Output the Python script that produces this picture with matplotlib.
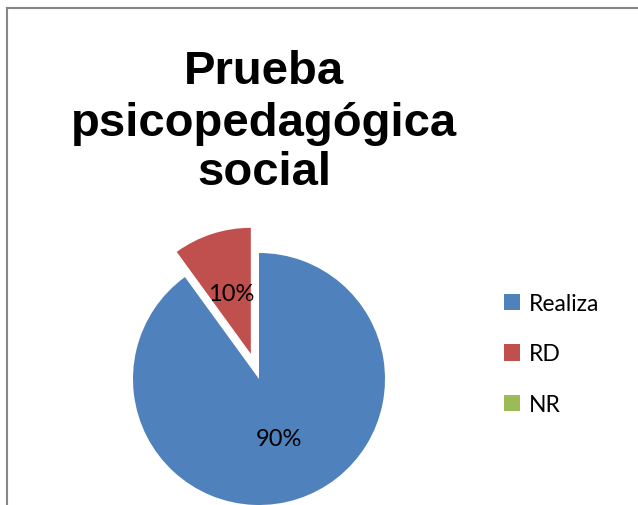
import matplotlib
matplotlib.use('Agg')
import matplotlib.pyplot as plt
from matplotlib.lines import Line2D

labels = ['Realiza', 'RD', 'NR']
values = [90, 10, 0]
colors = ['#4F81BD', '#C0504D', '#9BBB59']
title_lines = ['Prueba', 'psicopedagógica', 'social']

W, H = 638, 506
fig = plt.figure(figsize=(W / 100, H / 100), dpi=100)
fig.patch.set_facecolor('white')

# chart area frame (only top and left edges visible)
fig.add_artist(Line2D([7 / W, 1], [1 - 9 / H, 1 - 9 / H], transform=fig.transFigure,
                      color='#868686', lw=1.5))
fig.add_artist(Line2D([7 / W, 7 / W], [0, 1 - 9 / H], transform=fig.transFigure,
                      color='#868686', lw=1.5))

# title, one line at a time
title_y = [84, 136, 185]
for line, y in zip(title_lines, title_y):
    fig.text(264 / W, 1 - y / H, line, ha='center', va='baseline',
             family='Liberation Sans', weight='bold', fontsize=34)

ax = fig.add_axes([0, 0, 1, 1])
ax.set_xlim(0, W)
ax.set_ylim(0, H)
ax.set_aspect('equal')
ax.axis('off')

cx, cy, r = 259, H - 380, 126


def pct(p):
    return '%.0f%%' % p if p > 0.5 else ''


# explode is in data units here since radius is in pixels
wedges, texts, autotexts = ax.pie(values, colors=colors, startangle=90, counterclock=False,
                                  explode=[0, 0.21 * r, 0], center=(cx, cy), radius=r,
                                  autopct=pct, pctdistance=0.5,
                                  wedgeprops=dict(linewidth=0),
                                  textprops=dict(family='Lato', fontsize=17, color='black'))
ax.set_xlim(0, W)
ax.set_ylim(0, H)

ax.legend(wedges, labels, loc='center left', bbox_to_anchor=(483 / W, 1 - 355 / H),
          bbox_transform=fig.transFigure, frameon=False,
          prop=dict(family='Lato', size=16.5), handlelength=0.7, handleheight=0.7,
          handletextpad=0.4, labelspacing=1.3)

fig.savefig('out.png', dpi=100)
